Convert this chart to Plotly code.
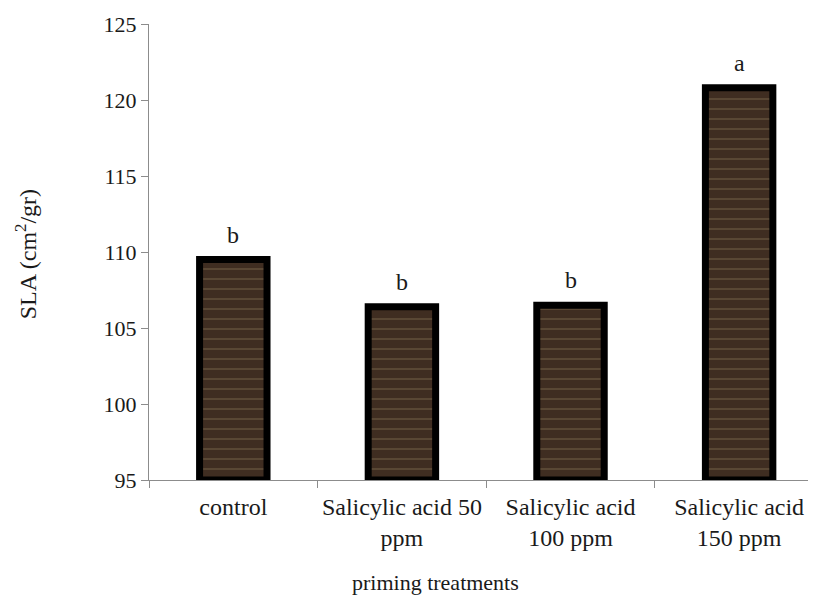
import plotly.graph_objects as go

categories = ["control", "Salicylic acid 50<br>ppm", "Salicylic acid<br>100 ppm", "Salicylic acid<br>150 ppm"]
sla_values = [109.5, 106.4, 106.5, 120.8]
letters = ["b", "b", "b", "a"]
y_ticks = [95, 100, 105, 110, 115, 120, 125]
Y_MIN, Y_MAX = 95, 125

FONT = "Liberation Serif"
TXT = "#1a1a1a"

fig = go.Figure()
fig.add_trace(go.Bar(
    x=categories,
    y=[v - Y_MIN for v in sla_values],
    base=Y_MIN,
    marker=dict(
        color="#3d2b20",
        line=dict(color="black", width=7),
        pattern=dict(shape="-", bgcolor="#3f2d21", fgcolor="#62503a",
                     size=10, solidity=0.15, fillmode="replace"),
    ),
    hoverinfo="skip",
))

annotations = []
for c, v, t in zip(categories, sla_values, letters):
    annotations.append(dict(x=c, y=v, text=t, showarrow=False, xref="x", yref="y",
                            yanchor="bottom", yshift=10,
                            font=dict(family=FONT, size=24, color=TXT)))
annotations.append(dict(text="SLA (cm<sup>2</sup>/gr)", xref="paper", yref="paper",
                        x=0, y=0.495, xshift=-123, xanchor="center", yanchor="middle",
                        textangle=-90, showarrow=False,
                        font=dict(family=FONT, size=24, color=TXT)))
annotations.append(dict(text="priming treatments", xref="paper", yref="paper",
                        x=0.43, y=0, yshift=-102, xanchor="center", yanchor="middle",
                        showarrow=False,
                        font=dict(family=FONT, size=22, color=TXT)))

fig.update_layout(
    width=816, height=616,
    margin=dict(l=141, r=8, t=16, b=144),
    paper_bgcolor="white", plot_bgcolor="white",
    bargap=0.6,
    showlegend=False,
    annotations=annotations,
    font=dict(family=FONT, size=22, color=TXT),
)
fig.update_xaxes(
    type="category", range=[-0.5, 3.456],
    showline=True, linecolor="#8c8c8c", linewidth=1,
    ticks="outside", tickson="boundaries", ticklen=7, tickcolor="#8c8c8c",
    showgrid=False, zeroline=False, tickangle=0, automargin=False,
    ticklabelstandoff=5,
    tickfont=dict(family=FONT, size=24, color=TXT),
)
fig.update_yaxes(
    range=[Y_MIN, Y_MAX], tickvals=y_ticks,
    showline=True, linecolor="#8c8c8c", linewidth=1,
    ticks="outside", ticklen=7, tickcolor="#8c8c8c",
    showgrid=False, zeroline=False, automargin=False,
    tickfont=dict(family=FONT, size=22, color=TXT),
)

fig.write_html("out.html")
